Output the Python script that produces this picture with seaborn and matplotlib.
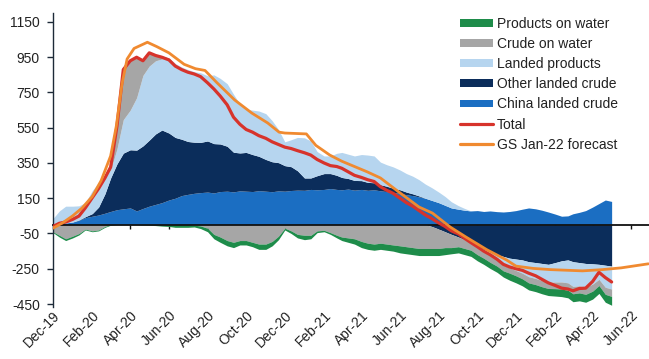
import numpy as np
import pandas as pd
import matplotlib
matplotlib.use("Agg")
import matplotlib.pyplot as plt
import matplotlib.dates as mdates
from matplotlib.patches import Patch
from matplotlib.lines import Line2D
import seaborn as sns

# ---------------------------------------------------------------------------
# Inventory changes (mb), sampled on the 1st, 11th and 21st of each month
# from Dec-19 to Apr-22, plus 1-May-22.
# ---------------------------------------------------------------------------
china_landed_crude = [
    5, 8, 10, 15, 25, 40, 48, 55, 65, 75,
    85, 90, 95, 78, 92, 105, 115, 125, 140, 150,
    165, 172, 178, 182, 185, 180, 188, 190, 186, 192,
    190, 188, 193, 190, 187, 192, 190, 194, 196, 195,
    200, 198, 200, 205, 200, 198, 202, 196, 200, 195,
    198, 192, 188, 182, 178, 170, 165, 158, 150, 138,
    125, 110, 95, 88, 82, 78, 80, 75, 78, 74,
    72, 75, 80, 88, 95, 90, 82, 72, 60, 48,
    50, 62, 70, 80, 100, 120, 140, 132,
]
other_landed_crude = [
    0, 0, 0, 0, 2, 5, 15, 45, 110, 190,
    260, 316, 330, 345, 355, 375, 400, 412, 380, 345,
    320, 300, 290, 285, 290, 280, 270, 255, 225, 215,
    220, 210, 195, 180, 170, 160, 145, 135, 110, 70,
    65, 80, 90, 85, 80, 70, 60, 55, 50, 45,
    40, 35, 30, 25, 20, 15, 10, 5, 0, -10,
    -25, -40, -55, -70, -85, -100, -120, -140, -155, -170,
    -180, -190, -195, -200, -210, -215, -220, -225, -215, -205,
    -200, -210, -215, -220, -222, -225, -230, -235,
]
landed_products = [
    30, 70, 95, 90, 80, 80, 130, 140, 105, 45,
    85, 190, 225, 297, 400, 420, 415, 403, 420, 420,
    410, 408, 400, 395, 370, 390, 372, 355, 329, 278,
    245, 252, 257, 260, 233, 188, 135, 153, 189, 228,
    210, 137, 100, 100, 125, 142, 138, 139, 148, 155,
    152, 128, 122, 121, 112, 105, 100, 92, 80, 72,
    60, 50, 35, 20, 10, 0, -5, -10, -20, -30,
    -50, -55, -65, -75, -85, -90, -97, -102, -110, -120,
    -130, -140, -132, -135, -115, -85, -125, -130,
]
crude_on_water = [
    -40, -60, -80, -65, -50, -25, -35, -30, -10, 20,
    130, 284, 280, 230, 85, 78, 35, 18, 5, 0,
    0, 0, -3, -7, -20, -55, -70, -90, -100, -90,
    -90, -100, -110, -110, -95, -65, -20, -35, -55, -60,
    -60, -35, -32, -45, -60, -70, -75, -80, -95, -105,
    -110, -105, -110, -115, -120, -125, -130, -135, -135, -125,
    -110, -90, -75, -55, -50, -45, -45, -40, -38, -35,
    -32, -30, -30, -32, -35, -35, -35, -35, -38, -40,
    -42, -42, -40, -40, -40, -35, -40, -42,
]
products_on_water = [
    -5, -10, -10, -10, -8, -5, -5, -5, -5, -3,
    0, 0, 0, 0, -2, -3, -5, -8, -10, -15,
    -15, -15, -10, -15, -20, -25, -30, -30, -30, -25,
    -25, -25, -30, -30, -25, -20, -10, -15, -20, -25,
    -20, -10, -8, -10, -15, -20, -25, -30, -35, -35,
    -35, -35, -35, -35, -40, -40, -40, -40, -40, -40,
    -40, -40, -35, -35, -35, -35, -35, -35, -35, -35,
    -35, -40, -40, -40, -40, -40, -40, -40, -42, -43,
    -43, -45, -45, -45, -45, -45, -45, -50,
]

# GS Jan-22 forecast path
forecast_dates = [
    "2019-12-01", "2019-12-16", "2020-01-01", "2020-01-16", "2020-02-01",
    "2020-02-15", "2020-03-01", "2020-03-10", "2020-03-19", "2020-03-27",
    "2020-04-07", "2020-04-28", "2020-05-13", "2020-06-01", "2020-06-25",
    "2020-07-13", "2020-07-28", "2020-08-16", "2020-09-13", "2020-10-10",
    "2020-11-04", "2020-11-22", "2020-12-01", "2021-01-04", "2021-01-19",
    "2021-02-10", "2021-03-01", "2021-04-10", "2021-05-01", "2021-06-01",
    "2021-07-01", "2021-07-22", "2021-08-19", "2021-09-13", "2021-10-16",
    "2021-11-16", "2021-12-01", "2021-12-28", "2022-01-25", "2022-03-16",
    "2022-04-16", "2022-05-16", "2022-06-28",
]
forecast_values = [
    -20, 10, 50, 95, 160,
    250, 390, 560, 800, 940,
    1000, 1035, 1010, 975, 910,
    885, 875, 805, 707, 633,
    577, 525, 520, 515, 450,
    395, 360, 300, 265, 180,
    100, 66, -13, -70, -142,
    -200, -235, -248, -255, -262,
    -255, -245, -222,
]

series_colors = ["#1b6ec2", "#0b2d5b", "#b6d5ef", "#a6a6a6", "#1e8c4a"]
total_color = "#d7332b"
forecast_color = "#f08a30"

tick_labels = ["Dec-19", "Feb-20", "Apr-20", "Jun-20", "Aug-20", "Oct-20",
               "Dec-20", "Feb-21", "Apr-21", "Jun-21", "Aug-21", "Oct-21",
               "Dec-21", "Feb-22", "Apr-22", "Jun-22"]
y_ticks = [-450, -250, -50, 150, 350, 550, 750, 950, 1150]

# ---------------------------------------------------------------------------
sns.set_theme(style="white")
plt.rcParams["font.family"] = ["Liberation Sans", "DejaVu Sans"]

month_starts = pd.date_range("2019-12-01", "2022-04-01", freq="MS")
dates = [d + pd.Timedelta(days=off) for d in month_starts for off in (0, 10, 20)]
dates.append(pd.Timestamp("2022-05-01"))
dates = pd.DatetimeIndex(dates)

components = [np.asarray(s, dtype=float) for s in
              (china_landed_crude, other_landed_crude, landed_products,
               crude_on_water, products_on_water)]
total = np.sum(components, axis=0)

fig = plt.figure(figsize=(6.49, 3.59), dpi=100)
ax = fig.add_axes([53 / 649, 1 - 307 / 359, 1 - 53 / 649, 294 / 359])

# stacked areas: positive parts pile upward, negative parts downward
pos_base = np.zeros(len(dates))
neg_base = np.zeros(len(dates))
for vals, col in zip(components, series_colors):
    up = np.clip(vals, 0, None)
    dn = np.clip(vals, None, 0)
    ax.fill_between(dates, pos_base, pos_base + up, color=col, lw=0,
                    zorder=1)
    ax.fill_between(dates, neg_base, neg_base + dn, color=col, lw=0,
                    zorder=1)
    pos_base = pos_base + up
    neg_base = neg_base + dn

sns.lineplot(x=dates, y=total, ax=ax, color=total_color, lw=2.3, zorder=3)
sns.lineplot(x=pd.to_datetime(forecast_dates), y=forecast_values, ax=ax,
             color=forecast_color, lw=2.0, zorder=4)

tick_dates = pd.date_range("2019-12-01", "2022-06-01", freq="2MS")
ax.set_xlim(pd.Timestamp("2019-12-01"), pd.Timestamp("2022-06-29"))
ax.set_ylim(-467, 1201)
ax.set_yticks(y_ticks)
ax.set_yticklabels([str(v) for v in y_ticks])
ax.set_xlabel("")
ax.set_ylabel("")

for side in ("top", "right"):
    ax.spines[side].set_visible(False)
ax.spines["left"].set_color("#1d2a38")
ax.spines["left"].set_linewidth(1.0)
ax.spines["bottom"].set_position(("data", 0))
ax.spines["bottom"].set_color("#111111")
ax.spines["bottom"].set_linewidth(1.3)
ax.spines["bottom"].set_zorder(2.5)

ax.set_xticks(tick_dates)
ax.tick_params(axis="x", direction="out", length=3, width=1.0,
               color="#111111", labelbottom=False, bottom=True)
ax.tick_params(axis="y", direction="out", length=4.5, width=1.0,
               color="#1d2a38", pad=5, labelsize=10, labelcolor="#222222",
               left=True)

# month labels sit below the plot area, rotated
sec = ax.secondary_xaxis(0.0)
sec.set_xticks(mdates.date2num(tick_dates), labels=tick_labels)
sec.spines["bottom"].set_visible(False)
sec.tick_params(axis="x", length=0, pad=1, labelsize=10, labelcolor="#222222")
for lbl in sec.get_xticklabels():
    lbl.set_rotation(45)
    lbl.set_ha("right")
    lbl.set_va("top")
    lbl.set_rotation_mode("anchor")

handles = [
    Patch(facecolor=series_colors[4], edgecolor="none"),
    Patch(facecolor=series_colors[3], edgecolor="none"),
    Patch(facecolor=series_colors[2], edgecolor="none"),
    Patch(facecolor=series_colors[1], edgecolor="none"),
    Patch(facecolor=series_colors[0], edgecolor="none"),
    Line2D([], [], color=total_color, lw=2.3),
    Line2D([], [], color=forecast_color, lw=2.3),
]
labels = ["Products on water", "Crude on water", "Landed products",
          "Other landed crude", "China landed crude", "Total",
          "GS Jan-22 forecast"]
fig.legend(handles, labels, loc="upper left",
           bbox_to_anchor=(460 / 649, 1 - 17 / 359), frameon=False,
           fontsize=10, handlelength=2.4, handleheight=0.5,
           handletextpad=0.25, labelspacing=0.44, borderaxespad=0,
           borderpad=0, labelcolor="#222222")

fig.savefig("out.png", dpi=100)
